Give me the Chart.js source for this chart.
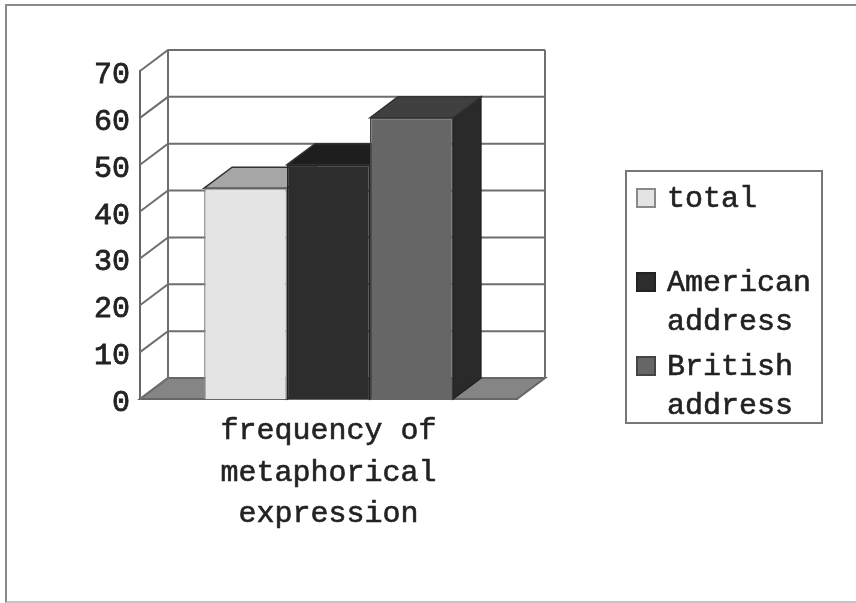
<!DOCTYPE html>
<html>
<head>
<meta charset="utf-8">
<script src="https://cdn.jsdelivr.net/npm/chart.js@4"></script>
<style>
    html, body { margin: 0; padding: 0; background: #fff; }
    #wrap { position: relative; width: 856px; height: 603px; overflow: hidden; filter: blur(0.6px); }
    #frame { position: absolute; left: 5px; top: 4px; width: 851px; height: 599px; box-sizing: border-box; border: 2px solid #8a8a8a; border-right: none; border-bottom-color: #c4c4c4; }
    canvas { position: absolute; left: 0; top: 0; }
    #legend { position: absolute; left: 625px; top: 170px; width: 198px; height: 254px; box-sizing: border-box; border: 2px solid #777; padding-top: 8px; background: #fff; font: 30px "Liberation Mono", monospace; color: #222; -webkit-text-stroke: 0.6px #222; }
    .item { position: relative; height: 84px; padding-left: 40px; line-height: 39px; white-space: nowrap; }
    .swatch { position: absolute; left: 9px; top: 8px; width: 20px; height: 20px; box-sizing: border-box; border: 2px solid #555; }
</style>
</head>
<body>
<div id="wrap">
    <div id="frame"></div>
    <canvas id="chart" width="856" height="603"></canvas>
    <div id="legend"></div>
</div>
<script>
    // Values
    const categoryLines = ['frequency of', 'metaphorical', 'expression'];
    const seriesNames = [['total'], ['American', 'address'], ['British', 'address']];
    const totalValues = [45];
    const americanValues = [50];
    const britishValues = [60];

    const frontColors = ['#e4e4e4', '#2d2d2d', '#666666'];
    const edgeColors = ['#8a8a8a', '#222222', '#444444'];
    const topColors = ['#a6a6a6', '#1e1e1e', '#404040'];
    const sideColors = ['#8c8c8c', '#1a1a1a', '#2a2a2a'];

    const DEPTH_X = 28;
    const DEPTH_Y = 21;
    const FONT = '"Liberation Mono", monospace';

    function poly(ctx, points, fill, stroke) {
        ctx.beginPath();
        points.forEach((p, i) => i ? ctx.lineTo(p[0], p[1]) : ctx.moveTo(p[0], p[1]));
        ctx.closePath();
        if (fill) {
            ctx.fillStyle = fill;
            ctx.fill();
        }
        if (stroke) {
            ctx.strokeStyle = stroke;
            ctx.stroke();
        }
    }

    // Walls, floor and the top and side faces of the bars. Chart.js draws the fronts after this.
    const box3d = {
        id: 'box3d',
        beforeDatasetsDraw(chart) {
            const ctx = chart.ctx;
            const area = chart.chartArea;
            const y = chart.scales.y;
            const base = y.getPixelForValue(0);
            ctx.save();
            ctx.lineWidth = 2;

            poly(ctx, [[area.left, base], [area.left + DEPTH_X, base - DEPTH_Y], [area.right + DEPTH_X, base - DEPTH_Y], [area.right, base]], '#858585', '#666666');

            ctx.strokeStyle = '#6e6e6e';
            y.ticks.forEach(tick => {
                const py = y.getPixelForValue(tick.value);
                ctx.beginPath();
                ctx.moveTo(area.left, py);
                ctx.lineTo(area.left + DEPTH_X, py - DEPTH_Y);
                if (tick.value > 0) {
                    ctx.lineTo(area.right + DEPTH_X, py - DEPTH_Y);
                }
                ctx.stroke();
            });
            ctx.beginPath();
            ctx.moveTo(area.left + DEPTH_X, area.top - DEPTH_Y);
            ctx.lineTo(area.left + DEPTH_X, base - DEPTH_Y);
            ctx.moveTo(area.right + DEPTH_X, area.top - DEPTH_Y);
            ctx.lineTo(area.right + DEPTH_X, base - DEPTH_Y);
            ctx.stroke();

            ctx.lineWidth = 1.5;
            chart.data.datasets.forEach((set, i) => {
                const bar = chart.getDatasetMeta(i).data[0];
                const l = bar.x - bar.width / 2;
                const r = bar.x + bar.width / 2;
                poly(ctx, [[r, bar.y], [r + DEPTH_X, bar.y - DEPTH_Y], [r + DEPTH_X, bar.base - DEPTH_Y], [r, bar.base]], sideColors[i], '#222222');
                poly(ctx, [[l, bar.y], [l + DEPTH_X, bar.y - DEPTH_Y], [r + DEPTH_X, bar.y - DEPTH_Y], [r, bar.y]], topColors[i], '#333333');
            });
            ctx.restore();
        }
    };

    const chart = new Chart(document.getElementById('chart'), {
        type: 'bar',
        plugins: [box3d],
        data: {
            labels: [categoryLines],
            datasets: [
                { label: seriesNames[0].join(' '), data: totalValues, backgroundColor: frontColors[0], borderColor: edgeColors[0] },
                { label: seriesNames[1].join(' '), data: americanValues, backgroundColor: frontColors[1], borderColor: edgeColors[1] },
                { label: seriesNames[2].join(' '), data: britishValues, backgroundColor: frontColors[2], borderColor: edgeColors[2] }
            ]
        },
        options: {
            responsive: false,
            animation: false,
            layout: { padding: { left: 0, right: 339, top: 71, bottom: 0 } },
            datasets: { bar: { categoryPercentage: 0.66, barPercentage: 1, borderWidth: 1.5 } },
            plugins: { legend: { display: false }, tooltip: { enabled: false } },
            scales: {
                x: {
                    afterFit: scale => { scale.height = 204; },
                    grid: { display: false },
                    border: { color: '#666666', width: 2 },
                    ticks: { color: '#222222', padding: 4, maxRotation: 0, textStrokeColor: '#222222', textStrokeWidth: 0.6, font: { family: FONT, size: 30, lineHeight: 1.37 } }
                },
                y: {
                    min: 0,
                    max: 70,
                    afterFit: scale => { scale.width = 140; },
                    grid: { display: false },
                    border: { color: '#666666', width: 2 },
                    ticks: { stepSize: 10, color: '#222222', padding: 2, labelOffset: 4, textStrokeColor: '#222222', textStrokeWidth: 0.8, font: { family: FONT, size: 30 } }
                }
            }
        }
    });

    // Legend box with wrapped names
    const legend = document.getElementById('legend');
    seriesNames.forEach((lines, i) => {
        const item = document.createElement('div');
        item.className = 'item';
        const swatch = document.createElement('span');
        swatch.className = 'swatch';
        swatch.style.background = frontColors[i];
        swatch.style.borderColor = edgeColors[i];
        item.appendChild(swatch);
        lines.forEach(line => {
            const row = document.createElement('div');
            row.textContent = line;
            item.appendChild(row);
        });
        legend.appendChild(item);
    });
</script>
</body>
</html>
